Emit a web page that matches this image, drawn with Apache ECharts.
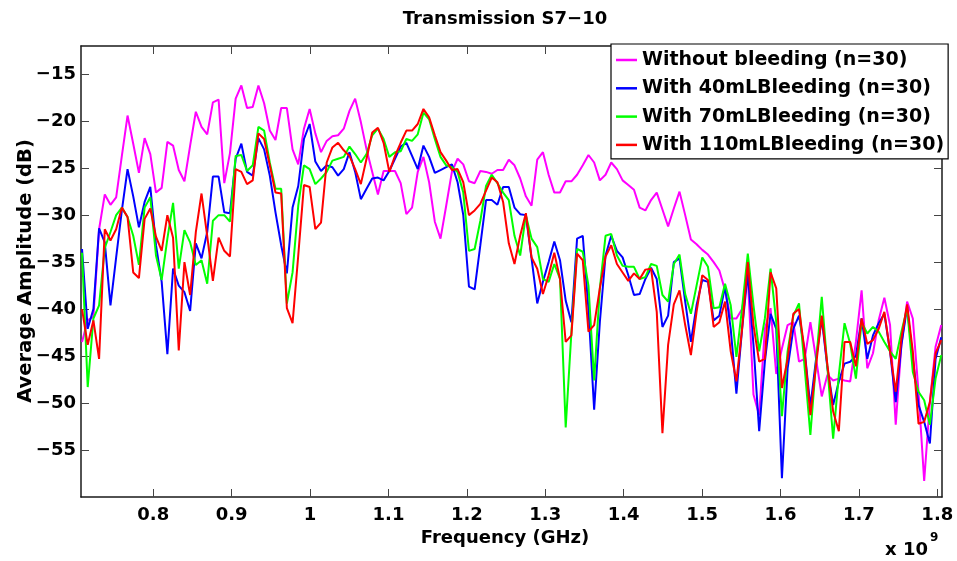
<!DOCTYPE html>
<html>
<head>
<meta charset="utf-8">
<script src="https://cdn.jsdelivr.net/npm/echarts@6/dist/echarts.min.js"></script>
<style>
html,body{margin:0;padding:0;background:#fff;}
#chart{width:957px;height:561px;}
</style>
</head>
<body>
<div id="chart"></div>
<script>
// Sampling grid (GHz)
const freqStart = 0.7091, freqStep = 0.007258, nPoints = 152;
const freqGHz = [];
for (let i = 0; i < nPoints; i++) freqGHz.push(+(freqStart + i * freqStep).toFixed(5));

const xTicks = [0.8, 0.9, 1.0, 1.1, 1.2, 1.3, 1.4, 1.5, 1.6, 1.7, 1.8];
const yTicks = [-55, -50, -45, -40, -35, -30, -25, -20, -15];

const seriesNames = ['Without bleeding (n=30)', 'With 40mLBleeding (n=30)', 'With 70mLBleeding (n=30)', 'With 110mLBleeding (n=30)'];

const withoutBleeding = [
-43.5,-41.2,-40.8,-31.5,-27.8,-28.9,-28.1,-23.7,-19.4,-22.4,
-25.5,-21.8,-23.5,-27.6,-27.1,-22.2,-22.6,-25.2,-26.4,-22.6,
-19.0,-20.6,-21.4,-18.0,-17.7,-26.6,-23.4,-17.6,-16.2,-18.6,
-18.5,-16.2,-18.1,-21.0,-22.0,-18.6,-18.6,-23.0,-24.6,-20.8,
-18.7,-21.3,-23.3,-22.1,-21.6,-21.5,-20.8,-18.9,-17.6,-20.1,
-23.0,-25.4,-27.8,-25.3,-25.3,-25.3,-26.6,-29.9,-29.2,-25.4,
-23.8,-26.5,-30.7,-32.5,-29.0,-25.4,-24.0,-24.6,-26.4,-26.6,
-25.3,-25.4,-25.6,-25.2,-25.2,-24.1,-24.7,-26.1,-28.0,-29.0,
-24.1,-23.3,-25.7,-27.6,-27.6,-26.4,-26.4,-25.7,-24.7,-23.6,
-24.4,-26.3,-25.7,-24.4,-25.1,-26.3,-26.8,-27.3,-29.2,-29.5,
-28.4,-27.6,-29.4,-31.2,-29.3,-27.5,-30.0,-32.6,-33.1,-33.7,
-34.2,-35.0,-35.9,-38.0,-41.0,-41.0,-40.0,-36.5,-49.1,-51.3,
-42.1,-39.9,-46.9,-44.2,-41.7,-41.4,-45.6,-45.3,-41.4,-45.3,
-49.3,-47.0,-47.6,-47.4,-47.6,-47.7,-43.5,-38.0,-46.3,-44.7,
-41.2,-38.8,-41.7,-52.3,-43.8,-39.2,-41.0,-48.8,-58.3,-49.9,
-44.0,-41.7];

const with40mL = [
-33.6,-42.1,-40.0,-31.4,-32.9,-39.6,-34.5,-29.5,-25.1,-28.0,
-31.3,-28.6,-27.0,-33.2,-37.1,-44.8,-35.7,-37.5,-38.2,-40.2,
-33.0,-34.6,-31.8,-25.9,-25.9,-29.7,-29.8,-24.0,-22.4,-25.4,
-25.8,-21.8,-23.0,-25.8,-29.7,-33.2,-36.2,-29.2,-26.9,-21.9,
-20.3,-24.3,-25.3,-24.7,-24.9,-25.8,-25.1,-23.3,-25.4,-28.3,
-27.2,-26.1,-26.0,-26.3,-25.3,-24.0,-22.7,-22.3,-23.7,-25.1,
-22.6,-23.8,-25.5,-25.2,-24.9,-24.6,-26.5,-30.0,-37.6,-37.9,
-33.2,-28.4,-28.4,-28.9,-27.0,-27.0,-29.2,-29.9,-30.0,-34.6,
-39.4,-37.1,-35.0,-32.8,-34.8,-39.1,-41.4,-32.5,-32.2,-40.0,
-50.7,-41.4,-34.3,-32.2,-33.8,-34.5,-36.4,-38.5,-38.4,-36.8,
-35.6,-36.8,-41.9,-40.7,-35.0,-34.6,-39.2,-43.5,-39.6,-36.9,
-37.1,-41.2,-40.7,-37.6,-42.1,-49.0,-42.1,-36.2,-43.8,-53.0,
-45.6,-40.5,-42.1,-58.0,-46.3,-42.1,-40.7,-44.5,-50.4,-45.3,
-41.0,-46.3,-50.2,-47.7,-45.8,-45.6,-45.0,-41.0,-45.3,-42.8,
-41.5,-40.5,-44.5,-49.9,-43.8,-39.8,-45.3,-50.2,-52.0,-54.3,
-45.3,-43.0];

const with70mL = [
-34.0,-48.3,-41.0,-39.6,-33.5,-31.8,-30.0,-29.2,-30.2,-32.2,
-35.3,-29.2,-28.1,-34.3,-36.9,-32.5,-28.7,-35.7,-31.6,-32.9,
-35.3,-34.8,-37.3,-30.6,-30.0,-30.0,-30.7,-23.7,-23.6,-25.3,
-24.7,-20.6,-21.0,-24.4,-27.2,-27.2,-39.4,-36.1,-29.0,-24.7,
-25.1,-26.7,-26.1,-25.4,-24.2,-24.0,-23.8,-22.7,-23.5,-24.4,
-23.5,-21.5,-20.8,-21.9,-23.8,-23.3,-23.2,-21.9,-22.1,-21.4,
-19.1,-19.8,-21.9,-23.8,-24.7,-24.9,-25.4,-27.6,-33.8,-33.6,
-30.6,-26.9,-25.7,-26.6,-27.6,-28.4,-32.2,-34.3,-30.0,-32.5,
-33.4,-36.8,-37.1,-35.2,-36.8,-52.6,-42.5,-33.6,-33.9,-37.5,
-47.6,-37.8,-32.2,-32.0,-34.3,-35.4,-35.5,-35.5,-36.8,-36.6,
-35.2,-35.4,-38.5,-39.2,-35.2,-34.2,-38.4,-40.5,-37.5,-34.5,
-35.5,-39.9,-39.8,-37.3,-39.6,-45.1,-39.9,-34.1,-39.6,-44.5,
-41.0,-35.7,-41.4,-51.4,-44.5,-40.7,-39.4,-46.3,-53.4,-45.6,
-38.7,-46.3,-53.8,-47.0,-41.5,-43.7,-47.4,-41.4,-42.6,-41.9,
-42.4,-43.5,-44.5,-45.3,-42.4,-39.9,-46.7,-48.8,-49.7,-52.3,
-47.4,-44.9];

const with110mL = [
-40.0,-43.8,-41.2,-45.3,-31.5,-32.7,-31.5,-29.2,-30.2,-36.1,
-36.7,-30.4,-29.3,-32.3,-33.8,-30.0,-32.4,-44.4,-35.0,-38.5,
-31.8,-27.7,-32.2,-37.0,-32.4,-33.8,-34.4,-25.1,-25.4,-26.7,
-26.3,-21.3,-21.9,-24.7,-27.6,-27.7,-39.9,-41.5,-34.3,-26.8,
-27.0,-31.5,-30.8,-24.4,-22.8,-22.3,-23.1,-23.7,-25.1,-26.7,
-24.0,-21.2,-20.7,-22.3,-25.4,-23.7,-22.3,-21.0,-21.0,-20.3,
-18.7,-19.6,-21.5,-23.3,-24.2,-25.2,-25.1,-26.5,-30.0,-29.5,
-28.8,-27.4,-26.0,-26.5,-28.6,-33.0,-35.2,-32.2,-29.8,-34.5,
-35.7,-38.4,-36.4,-34.0,-36.8,-43.5,-42.8,-34.1,-34.8,-42.4,
-41.7,-37.8,-34.4,-33.2,-35.2,-36.1,-37.0,-36.2,-36.8,-35.8,
-35.7,-40.3,-53.2,-43.8,-39.5,-38.0,-41.7,-44.9,-40.3,-36.4,
-36.9,-41.9,-41.4,-39.2,-44.5,-47.7,-42.1,-35.0,-41.7,-45.6,
-45.3,-36.1,-37.8,-48.4,-45.3,-40.5,-40.0,-44.5,-51.3,-46.0,
-40.7,-46.0,-50.9,-53.0,-43.5,-43.5,-46.1,-41.0,-43.7,-43.3,
-42.1,-40.3,-44.5,-48.8,-43.1,-39.5,-44.5,-52.2,-52.0,-49.9,
-44.7,-43.3];

const colors = ['#ff00ff', '#0000ff', '#00ff00', '#ff0000'];
const allValues = [withoutBleeding, with40mL, with70mL, with110mL];

const FONT = 'DejaVu Sans';
const chart = echarts.init(document.getElementById('chart'), null, {renderer: 'canvas'});

function pairs(vals) { return vals.map((v, i) => [freqGHz[i], v]); }

const axisCommon = {
  axisLine: {show: true, onZero: false, lineStyle: {color: '#1a1a1a', width: 1.5}},
  splitLine: {show: false}
};

const option = {
  animation: false,
  backgroundColor: '#ffffff',
  grid: {left: 81, right: 15, top: 46, bottom: 64, containLabel: false},
  xAxis: [
    Object.assign({}, axisCommon, {
      type: 'value', min: 0.7078, max: 1.806, position: 'bottom',
      axisTick: {show: true, inside: true, length: 8, customValues: xTicks, lineStyle: {color: '#444', width: 1}},
      axisLabel: {show: true, customValues: xTicks, margin: 9, color: '#000',
        fontFamily: FONT, fontWeight: 'bold', fontSize: 18,
        formatter: v => String(+(+v).toFixed(1))}
    }),
    Object.assign({}, axisCommon, {
      type: 'value', min: 0.7078, max: 1.806, position: 'top',
      axisTick: {show: true, inside: true, length: 8, customValues: xTicks, lineStyle: {color: '#444', width: 1}},
      axisLabel: {show: false}
    })
  ],
  yAxis: [
    Object.assign({}, axisCommon, {
      type: 'value', min: -60, max: -12, position: 'left',
      axisTick: {show: true, inside: true, length: 8, customValues: yTicks, lineStyle: {color: '#444', width: 1}},
      axisLabel: {show: true, customValues: yTicks, margin: 5, color: '#000',
        fontFamily: FONT, fontWeight: 'bold', fontSize: 18,
        formatter: v => '\u2212' + Math.abs(v)}
    }),
    Object.assign({}, axisCommon, {
      type: 'value', min: -60, max: -12, position: 'right',
      axisTick: {show: true, inside: true, length: 8, customValues: yTicks, lineStyle: {color: '#444', width: 1}},
      axisLabel: {show: false}
    })
  ],
  legend: {
    show: true, orient: 'vertical', left: 611, top: 44,
    data: seriesNames,
    icon: 'rect', itemWidth: 21, itemHeight: 2.5, itemGap: 6.3,
    padding: [5, 4, 3, 5],
    backgroundColor: '#ffffff', borderColor: '#000000', borderWidth: 1.2,
    selectedMode: false,
    textStyle: {fontFamily: FONT, fontWeight: 'bold', fontSize: 19, color: '#000', lineHeight: 22}
  },
  series: seriesNames.map((name, k) => ({
    name: name, type: 'line', xAxisIndex: 0, yAxisIndex: 0,
    data: pairs(allValues[k]), showSymbol: false, symbol: 'none',
    lineStyle: {color: colors[k], width: 2}, itemStyle: {color: colors[k]},
    clip: true, z: 2 + k
  })),
  graphic: [
    {type: 'text', x: 505, y: 19, style: {text: 'Transmission S7\u221210', font: 'bold 18px "DejaVu Sans"', fill: '#000', textAlign: 'center', textVerticalAlign: 'middle'}},
    {type: 'text', x: 505, y: 538, style: {text: 'Frequency (GHz)', font: 'bold 18px "DejaVu Sans"', fill: '#000', textAlign: 'center', textVerticalAlign: 'middle'}},
    {type: 'text', x: 26, y: 271, rotation: Math.PI / 2, style: {text: 'Average Amplitude (dB)', font: 'bold 19.5px "DejaVu Sans"', fill: '#000', textAlign: 'center', textVerticalAlign: 'middle'}},
    {type: 'text', x: 928, y: 550, style: {text: 'x 10', font: 'bold 18px "DejaVu Sans"', fill: '#000', textAlign: 'right', textVerticalAlign: 'middle'}},
    {type: 'text', x: 930, y: 538, style: {text: '9', font: 'bold 12px "DejaVu Sans"', fill: '#000', textAlign: 'left', textVerticalAlign: 'middle'}}
  ]
};
chart.setOption(option);
</script>
</body>
</html>
